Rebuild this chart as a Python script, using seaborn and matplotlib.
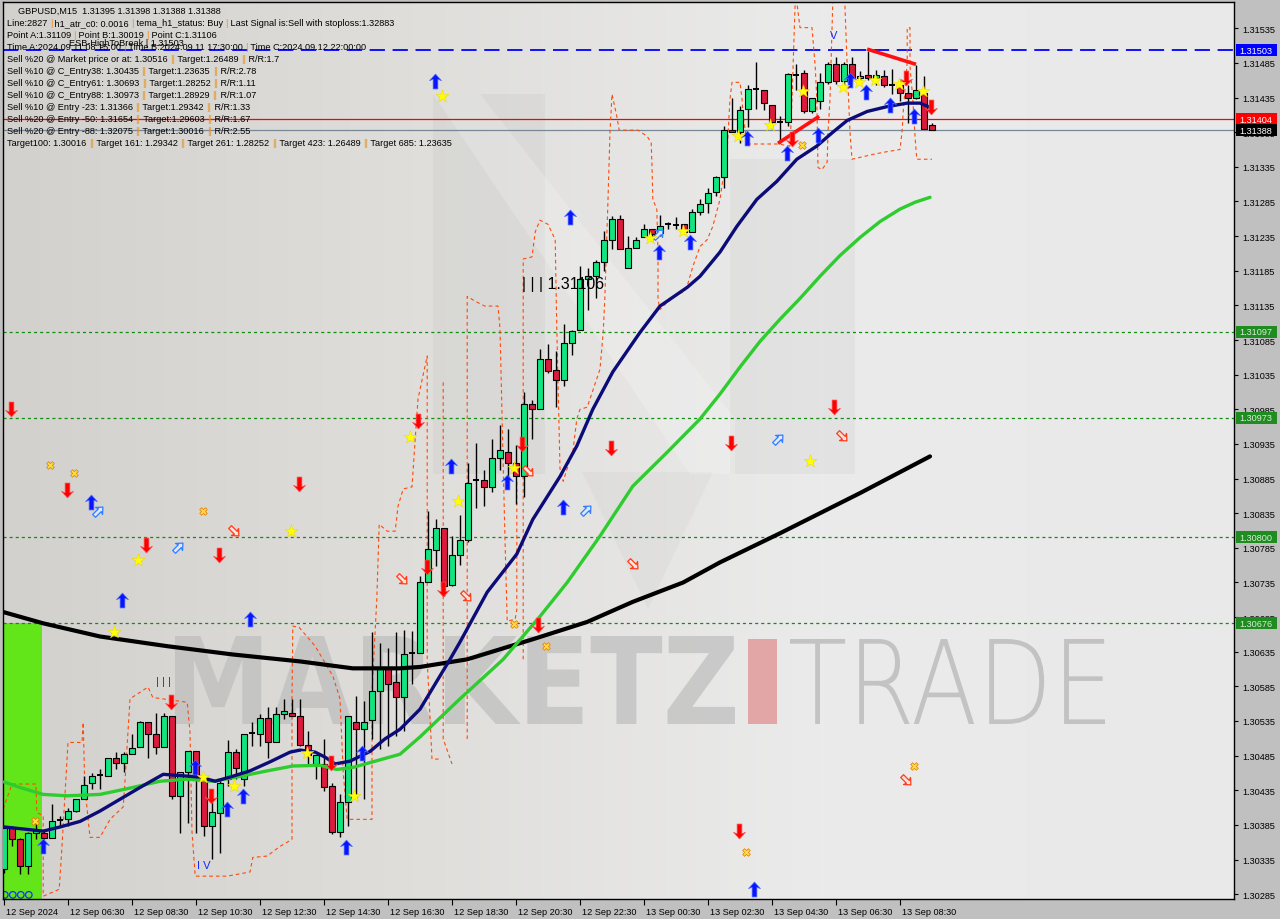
import numpy as np
import seaborn as sns
import matplotlib.pyplot as plt
from matplotlib.path import Path
from matplotlib.patches import Rectangle, Polygon, PathPatch
from matplotlib.textpath import TextPath
from matplotlib.font_manager import FontProperties
from matplotlib.transforms import Affine2D, IdentityTransform, blended_transform_factory, ScaledTranslation
from matplotlib.colors import LinearSegmentedColormap

W, H = 1280, 920

###############################################################################
# GBPUSD M15 candles, bar 0 = 12 Sep 04:30
opens = [
    1.30322, 1.30381, 1.30365, 1.30325, 1.30374, 1.30373, 1.30366, 1.30391, 1.30393, 1.30405,
    1.30423, 1.30445, 1.30456, 1.30456, 1.30481, 1.30475, 1.30488, 1.30498, 1.30534, 1.30516,
    1.30497, 1.30542, 1.30426, 1.30462, 1.30492, 1.30449, 1.30384, 1.30402, 1.30451, 1.30490,
    1.30451, 1.30516, 1.30516, 1.30539, 1.30505, 1.30545, 1.30547, 1.30542, 1.30500, 1.30473,
    1.30473, 1.30441, 1.30375, 1.30418, 1.30534, 1.30523, 1.30537, 1.30578, 1.30611, 1.30591,
    1.30570, 1.30632, 1.30633, 1.30735, 1.30782, 1.30813, 1.30731, 1.30774, 1.30797, 1.30882,
    1.30883, 1.30873, 1.30915, 1.30924, 1.30908, 1.30888, 1.30992, 1.30985, 1.31058, 1.31042,
    1.31028, 1.31081, 1.31099, 1.31173, 1.31178, 1.31198, 1.31229, 1.31259, 1.31189, 1.31218,
    1.31234, 1.31246, 1.31240, 1.31252, 1.31251, 1.31253, 1.31241, 1.31270, 1.31283, 1.31298,
    1.31320, 1.31388, 1.31386, 1.31418, 1.31447, 1.31446, 1.31425, 1.31400, 1.31400, 1.31467,
    1.31470, 1.31416, 1.31430, 1.31457, 1.31483, 1.31459, 1.31483, 1.31464, 1.31467, 1.31463,
    1.31466, 1.31453, 1.31453, 1.31441, 1.31434, 1.31441, 1.31396]
highs = [
    1.30384, 1.30384, 1.30366, 1.30375, 1.30393, 1.30377, 1.30415, 1.30398, 1.30410, 1.30423,
    1.30456, 1.30460, 1.30466, 1.30482, 1.30490, 1.30490, 1.30516, 1.30535, 1.30534, 1.30547,
    1.30547, 1.30542, 1.30462, 1.30492, 1.30492, 1.30449, 1.30418, 1.30451, 1.30507, 1.30495,
    1.30516, 1.30533, 1.30545, 1.30555, 1.30555, 1.30567, 1.30567, 1.30567, 1.30521, 1.30486,
    1.30509, 1.30446, 1.30430, 1.30542, 1.30571, 1.30564, 1.30664, 1.30648, 1.30641, 1.30663,
    1.30667, 1.30665, 1.30744, 1.30838, 1.30826, 1.30813, 1.30802, 1.30832, 1.30908, 1.30937,
    1.30898, 1.30942, 1.30963, 1.30957, 1.30934, 1.31010, 1.30998, 1.31072, 1.31079, 1.31069,
    1.31108, 1.31100, 1.31192, 1.31189, 1.31201, 1.31242, 1.31264, 1.31265, 1.31235, 1.31234,
    1.31253, 1.31246, 1.31265, 1.31255, 1.31262, 1.31253, 1.31274, 1.31288, 1.31304, 1.31322,
    1.31394, 1.31434, 1.31423, 1.31453, 1.31487, 1.31446, 1.31425, 1.31409, 1.31471, 1.31484,
    1.31475, 1.31434, 1.31470, 1.31486, 1.31493, 1.31487, 1.31494, 1.31474, 1.31502, 1.31475,
    1.31475, 1.31476, 1.31460, 1.31453, 1.31482, 1.31466, 1.31399]
lows = [
    1.30316, 1.30355, 1.30314, 1.30314, 1.30365, 1.30365, 1.30366, 1.30384, 1.30384, 1.30403,
    1.30423, 1.30437, 1.30437, 1.30456, 1.30466, 1.30462, 1.30488, 1.30498, 1.30482, 1.30487,
    1.30497, 1.30422, 1.30374, 1.30387, 1.30374, 1.30369, 1.30336, 1.30345, 1.30441, 1.30451,
    1.30441, 1.30499, 1.30499, 1.30482, 1.30505, 1.30538, 1.30542, 1.30499, 1.30473, 1.30451,
    1.30434, 1.30372, 1.30367, 1.30384, 1.30422, 1.30422, 1.30509, 1.30495, 1.30499, 1.30514,
    1.30520, 1.30588, 1.30633, 1.30735, 1.30759, 1.30715, 1.30730, 1.30760, 1.30793, 1.30843,
    1.30845, 1.30865, 1.30898, 1.30881, 1.30848, 1.30859, 1.30942, 1.30985, 1.31038, 1.30989,
    1.31019, 1.31064, 1.31099, 1.31129, 1.31146, 1.31185, 1.31216, 1.31217, 1.31189, 1.31218,
    1.31234, 1.31228, 1.31235, 1.31245, 1.31245, 1.31240, 1.31241, 1.31265, 1.31269, 1.31293,
    1.31305, 1.31385, 1.31370, 1.31392, 1.31418, 1.31417, 1.31389, 1.31370, 1.31394, 1.31446,
    1.31413, 1.31413, 1.31418, 1.31454, 1.31454, 1.31447, 1.31459, 1.31454, 1.31461, 1.31453,
    1.31450, 1.31440, 1.31430, 1.31398, 1.31433, 1.31389, 1.31388]
closes = [
    1.30381, 1.30365, 1.30325, 1.30374, 1.30377, 1.30366, 1.30391, 1.30392, 1.30405, 1.30423,
    1.30443, 1.30456, 1.30457, 1.30481, 1.30475, 1.30488, 1.30496, 1.30534, 1.30516, 1.30498,
    1.30542, 1.30427, 1.30462, 1.30492, 1.30456, 1.30384, 1.30403, 1.30446, 1.30490, 1.30467,
    1.30516, 1.30517, 1.30539, 1.30505, 1.30545, 1.30549, 1.30542, 1.30500, 1.30486, 1.30486,
    1.30440, 1.30375, 1.30418, 1.30542, 1.30523, 1.30533, 1.30578, 1.30611, 1.30589, 1.30570,
    1.30632, 1.30633, 1.30736, 1.30783, 1.30813, 1.30730, 1.30774, 1.30797, 1.30878, 1.30883,
    1.30873, 1.30915, 1.30926, 1.30908, 1.30888, 1.30992, 1.30986, 1.31058, 1.31040, 1.31028,
    1.31081, 1.31098, 1.31173, 1.31178, 1.31197, 1.31229, 1.31260, 1.31217, 1.31218, 1.31229,
    1.31246, 1.31238, 1.31250, 1.31252, 1.31251, 1.31241, 1.31270, 1.31282, 1.31297, 1.31321,
    1.31388, 1.31386, 1.31417, 1.31447, 1.31447, 1.31427, 1.31400, 1.31400, 1.31469, 1.31467,
    1.31416, 1.31434, 1.31457, 1.31483, 1.31459, 1.31483, 1.31464, 1.31466, 1.31463, 1.31467,
    1.31453, 1.31453, 1.31442, 1.31434, 1.31446, 1.31389, 1.31388]

time_labels = ["12 Sep 2024", "12 Sep 06:30", "12 Sep 08:30", "12 Sep 10:30", "12 Sep 12:30",
               "12 Sep 14:30", "12 Sep 16:30", "12 Sep 18:30", "12 Sep 20:30", "12 Sep 22:30",
               "13 Sep 00:30", "13 Sep 02:30", "13 Sep 04:30", "13 Sep 06:30", "13 Sep 08:30"]

# moving averages (bar index, price)
navy_x = [0, 4.9, 7, 9.5, 12, 14.5, 17, 19.9, 24.5, 26.4, 28.25, 30.75, 33.25, 35.75, 37, 38.9,
          40.1, 41.4, 43.25, 45.75, 47.6, 49.5, 52, 55.75, 57, 60.4, 64.1, 66.1, 69.5, 71.6, 73.6,
          76.1, 79.5, 82, 85.4, 87, 89.5, 91.6, 94.1, 96.6, 99.1, 101.6, 103.6, 105.4, 107.9,
          110.4, 112.9, 114.5, 115.75]
navy_y = [1.30382, 1.30376, 1.30382, 1.30390, 1.30405, 1.30422, 1.30439, 1.30458, 1.30454, 1.30448,
          1.30454, 1.30463, 1.30476, 1.30490, 1.30493, 1.30490, 1.30483, 1.30473, 1.30477, 1.30491,
          1.30509, 1.30523, 1.30552, 1.30624, 1.30649, 1.30721, 1.30776, 1.30826, 1.30888, 1.30932,
          1.30985, 1.31039, 1.31096, 1.31134, 1.31161, 1.31177, 1.31212, 1.31249, 1.31288, 1.31314,
          1.31346, 1.31365, 1.31385, 1.31402, 1.31415, 1.31422, 1.31427, 1.31427, 1.31421]
green_x = [0, 2, 4.9, 7.9, 12, 16.1, 19.5, 22.9, 26.1, 29.5, 32.9, 36.1, 39.5, 41.6, 43.6, 46.1,
           49.5, 52, 57, 62.4, 67, 70.4, 74.5, 78.6, 82.9, 87, 89.5, 92, 94.5, 97, 99.5, 102,
           104.5, 107, 109.5, 112, 113.9, 115.75]
green_y = [1.30447, 1.30439, 1.30429, 1.30427, 1.30429, 1.30439, 1.30448, 1.30451, 1.30448, 1.30455,
           1.30463, 1.30470, 1.30471, 1.30465, 1.30468, 1.30476, 1.30487, 1.30512, 1.30567, 1.30624,
           1.30686, 1.30735, 1.30802, 1.30874, 1.30923, 1.30971, 1.31007, 1.31046, 1.31083, 1.31115,
           1.31145, 1.31177, 1.31207, 1.31233, 1.31256, 1.31274, 1.31284, 1.31291]
black_x = [0, 4.9, 12, 20.4, 28.6, 37, 43.6, 49.5, 52, 57.9, 66.1, 72.9, 78.6, 84.9, 89.5, 97, 107, 115.75]
black_y = [1.30692, 1.30676, 1.30657, 1.30643, 1.30631, 1.30621, 1.30611, 1.30611, 1.30613, 1.30624,
           1.30653, 1.30678, 1.30707, 1.30735, 1.30764, 1.30806, 1.30864, 1.30917]

# orange dashed channel, several pieces
orange_a = [(-0.1, 1.30408), (1, 1.30444), (4, 1.30444), (4.1, 1.30403), (4.9, 1.30398), (4.9, 1.30282),
            (6.9, 1.30292), (7.25, 1.30354), (8, 1.30504), (9.75, 1.30504), (9.9, 1.30533), (10.1, 1.30441),
            (10.75, 1.30367), (12, 1.30367), (13.25, 1.30393), (14.9, 1.30411), (15.1, 1.30444),
            (15.75, 1.30567), (18, 1.30584), (18.6, 1.30569), (22.9, 1.30562), (23.25, 1.30519),
            (23.5, 1.30375), (23.9, 1.30311), (27.9, 1.30311), (30.75, 1.30317), (31.1, 1.30338),
            (32.9, 1.30340), (34.5, 1.30354), (36, 1.30364), (36, 1.30567), (36.1, 1.30672),
            (36.9, 1.30670), (38.9, 1.30643), (41.1, 1.30600), (42, 1.30567), (42.4, 1.30461),
            (42.9, 1.30393), (46, 1.30393), (46, 1.30577), (46.6, 1.30711), (46.9, 1.30819),
            (47.9, 1.30809), (48.9, 1.30809), (49.25, 1.30845), (49.9, 1.30870), (51, 1.30873),
            (51.4, 1.30942), (51.75, 1.31000), (52.9, 1.31062), (52.9, 1.30624), (53.5, 1.30480),
            (54.5, 1.30480)]
orange_b = [(54.9, 1.31024), (54.9, 1.30509), (56, 1.30473)]
orange_c = [(57.9, 1.30509), (57.9, 1.31148), (58.9, 1.31141), (60.1, 1.31134), (61.75, 1.31134),
            (62, 1.31101), (62.6, 1.30808), (62.9, 1.30679), (63.9, 1.30682), (64.1, 1.30696), (64.1, 1.30880)]
orange_d = [(64.9, 1.30624), (64.9, 1.31202), (66, 1.31205), (66.4, 1.31241), (67, 1.31258), (68, 1.31252),
            (68.9, 1.31230), (69.1, 1.31101), (69.5, 1.30899), (69.9, 1.30881), (70.75, 1.30913),
            (71.1, 1.30923), (71.6, 1.30971), (72, 1.30985), (72.9, 1.30988), (73.25, 1.31000),
            (74.5, 1.31043), (74.9, 1.31096), (75.1, 1.31144), (75.5, 1.31288), (75.75, 1.31385),
            (76, 1.31440), (76.6, 1.31408), (76.9, 1.31388), (79.25, 1.31388), (80.4, 1.31379),
            (80.9, 1.31370), (81, 1.31336), (81.1, 1.31288), (81.6, 1.31274), (81.75, 1.31212),
            (81.75, 1.31144), (82, 1.31129), (82.4, 1.31134), (84.1, 1.31151), (84.9, 1.31154),
            (85.4, 1.31163), (86.1, 1.31191), (87, 1.31220), (87.9, 1.31230), (88.6, 1.31249),
            (89.5, 1.31288), (90.4, 1.31360), (90.75, 1.31433), (91, 1.31457), (92, 1.31457),
            (92.25, 1.31433), (92.4, 1.31408), (92.9, 1.31368), (96.75, 1.31368), (98.25, 1.31365),
            (98.5, 1.31433), (98.9, 1.31573), (99, 1.31620), (99.1, 1.31573), (99.5, 1.31536),
            (101, 1.31536), (101.4, 1.31480), (101.6, 1.31433), (101.75, 1.31334), (102.25, 1.31331),
            (102.9, 1.31342), (103, 1.31385), (103.25, 1.31433), (103.6, 1.31573), (103.9, 1.31620),
            (104.9, 1.31620), (105.1, 1.31573), (105.4, 1.31480), (105.75, 1.31385), (106, 1.31346),
            (108.6, 1.31353), (110.4, 1.31357), (112, 1.31360), (112.25, 1.31385), (112.4, 1.31414),
            (112.9, 1.31486), (112.9, 1.31536), (113.25, 1.31536), (113.25, 1.31480), (113.6, 1.31433),
            (113.9, 1.31375), (114.1, 1.31346), (116, 1.31346)]

# signal markers (bar index, price)
blue_up = [(53.9, 1.31459), (70.75, 1.31262), (81.9, 1.31212), (85.75, 1.31226), (92.9, 1.31376),
           (97.9, 1.31355), (101.75, 1.31381), (105.75, 1.31460), (107.75, 1.31443), (110.75, 1.31424),
           (113.75, 1.31408), (10.9, 1.30851), (14.75, 1.30709), (30.75, 1.30682), (55.9, 1.30903),
           (62.9, 1.30880), (69.9, 1.30844), (4.9, 1.30354), (27.9, 1.30408), (29.9, 1.30427),
           (23.9, 1.30468), (42.75, 1.30353), (44.75, 1.30489), (93.75, 1.30292)]
red_down = [(0.9, 1.30985), (7.9, 1.30868), (17.75, 1.30789), (26.9, 1.30774), (36.9, 1.30877),
            (51.75, 1.30968), (64.75, 1.30935), (75.9, 1.30929), (90.9, 1.30936), (103.75, 1.30988),
            (66.75, 1.30673), (91.9, 1.30376), (98.5, 1.31375), (112.75, 1.31464), (115.9, 1.31421),
            (20.9, 1.30562), (25.9, 1.30427), (40.9, 1.30474), (52.9, 1.30757), (54.9, 1.30725)]
hollow_up = [(11.75, 1.30838), (21.75, 1.30786), (72.75, 1.30839), (96.75, 1.30942), (81.75, 1.31238)]
hollow_down = [(28.75, 1.30810), (49.75, 1.30740), (57.75, 1.30715), (65.5, 1.30896), (78.6, 1.30761),
               (104.75, 1.30946), (112.75, 1.30450)]
stars = [(54.75, 1.31437), (16.75, 1.30767), (35.9, 1.30810), (50.75, 1.30945), (56.75, 1.30852),
         (63.75, 1.30900), (80.75, 1.31233), (84.9, 1.31242), (100.75, 1.30911), (13.75, 1.30663),
         (24.9, 1.30454), (28.75, 1.30441), (37.9, 1.30489), (43.75, 1.30427), (91.75, 1.31379),
         (95.75, 1.31396), (99.9, 1.31445), (104.9, 1.31451), (106.9, 1.31457), (108.9, 1.31461),
         (111.9, 1.31454), (114.9, 1.31445)]
crosses = [(5.75, 1.30904), (8.75, 1.30893), (24.9, 1.30838), (3.9, 1.30390), (63.75, 1.30675),
           (67.75, 1.30643), (92.75, 1.30346), (113.75, 1.30470), (99.75, 1.31366)]

# red trend lines
trend_1 = [(96.75, 1.31369), (101.9, 1.31408)]
trend_2 = [(107.9, 1.31505), (114, 1.31483)]

# horizontal levels
level_blue = 1.31503
level_red = 1.31404
level_last = 1.31388
levels_green = [1.31097, 1.30973, 1.30800, 1.30676]

header_lines = [
    "Line:2827 | h1_atr_c0: 0.0016 | tema_h1_status: Buy | Last Signal is:Sell with stoploss:1.32883",
    "Point A:1.31109 | Point B:1.30019 | Point C:1.31106",
    "Time A:2024.09.11 08:15:00 | Time B:2024.09.11 17:30:00 | Time C:2024.09.12 22:00:00",
    "Sell %20 @ Market price or at: 1.30516 || Target:1.26489 || R/R:1.7",
    "Sell %10 @ C_Entry38: 1.30435 || Target:1.23635 || R/R:2.78",
    "Sell %10 @ C_Entry61: 1.30693 || Target:1.28252 || R/R:1.11",
    "Sell %10 @ C_Entry88: 1.30973 || Target:1.28929 || R/R:1.07",
    "Sell %10 @ Entry -23: 1.31366 || Target:1.29342 || R/R:1.33",
    "Sell %20 @ Entry -50: 1.31654 || Target:1.29603 || R/R:1.67",
    "Sell %20 @ Entry -88: 1.32075 || Target:1.30016 || R/R:2.55",
    "Target100: 1.30016 || Target 161: 1.29342 || Target 261: 1.28252 || Target 423: 1.26489 || Target 685: 1.23635",
]
title_line = "GBPUSD,M15  1.31395 1.31398 1.31388 1.31388"

###############################################################################
sns.set_style("white")
plt.rcParams['font.family'] = ['Liberation Sans', 'DejaVu Sans']
plt.rcParams['lines.scale_dashes'] = False

fig = plt.figure(figsize=(W / 100, H / 100), dpi=100, facecolor='#c0c0c0')
ax = fig.add_axes([3 / W, 20 / H, 1231 / W, 897 / H])
XMIN, XMAX = -0.125, 153.75
YMIN, YMAX = 1.30278, 1.31573

# background gradient
bg = LinearSegmentedColormap.from_list('bg', ['#d3d1cd', '#dfdedb', '#ebebeb', '#e9e9e9'])
ax.imshow(np.linspace(0, 1, 256)[None, :], cmap=bg, aspect='auto',
          extent=[XMIN, XMAX, YMIN, YMAX], zorder=0, interpolation='bilinear')

# faint logo shapes (pixel space)
ident = IdentityTransform()
def px(pts):
    return [(x, H - y) for x, y in pts]
for pts, a in [([(433, 95), (545, 95), (545, 475), (433, 475)], 0.03),
               ([(730, 160), (855, 160), (855, 475), (730, 475)], 0.03),
               ([(582, 473), (713, 473), (648, 610)], 0.025)]:
    ax.add_patch(Polygon(px(pts), closed=True, transform=ident, fc='black', ec='none', alpha=a, zorder=0.5))
ax.add_patch(Polygon(px([(433, 95), (480, 95), (735, 420), (735, 475), (690, 475)]), closed=True,
                     transform=ident, fc='white', ec='none', alpha=0.2, zorder=0.5))

# MARKETZ | TRADE watermark
def word(txt, fp, x0, x1, ytop, ybot, color, alpha):
    tp = TextPath((0, 0), txt, size=1, prop=fp)
    e = tp.get_extents()
    tr = Affine2D().translate(-e.x0, -e.y0).scale((x1 - x0) / e.width, (ybot - ytop) / e.height) \
        .translate(x0, H - ybot)
    ax.add_patch(PathPatch(tp, transform=tr, fc=color, ec='none', alpha=alpha, zorder=0.6))
word("MARKETZ", FontProperties(family='DejaVu Sans', weight='bold'), 175, 735, 637, 725, '#bdbdbd', 0.7)
word("TRADE", FontProperties(family='DejaVu Sans', weight='light'), 790, 1105, 640, 725, '#b6b6b6', 0.75)
ax.add_patch(Polygon(px([(748, 640), (777, 640), (777, 725), (748, 725)]), closed=True, transform=ident,
                     fc='#e29b9b', ec='none', alpha=0.85, zorder=0.6))

# lime block on the left
ax.add_patch(Rectangle((XMIN, YMIN - 0.001), 4.75 - XMIN, 1.30676 - YMIN + 0.001,
                       fc='#62e61a', ec='none', zorder=0.8))
ax.scatter([0.1, 1.1, 2.1, 3.1], [1.30284] * 4, s=22, facecolors='none', edgecolors='#1a2cff',
           linewidths=0.9, zorder=2)

# levels
ax.axhline(level_blue, color='#0000ff', lw=1.3, dashes=(11, 5.5), zorder=1.5)
ax.axhline(level_red, color='#ff0000', lw=0.9, zorder=1.5)
ax.axhline(level_last, color='#778899', lw=0.9, zorder=1.5)
for lv in levels_green:
    ax.axhline(lv, color='#128c12', lw=0.9, dashes=(2.2, 2.2), zorder=1.5)

# orange dashed channel
for piece in [orange_a, orange_b, orange_c, orange_d]:
    xs, ys = zip(*piece)
    ax.plot(xs, ys, color='#ff4a0a', lw=0.8, dashes=(2.6, 2.2), zorder=2)

# candles
idx = np.arange(len(opens))
o, h, l, c = map(np.array, (opens, highs, lows, closes))
ax.vlines(idx, l, h, color='black', lw=1.0, zorder=5)
body_lo = np.minimum(o, c)
body_h = np.abs(c - o)
doji = body_h < 0.000015
cols = np.where(c > o, '#12e57e', '#dc1a3c')
ax.bar(idx[~doji], body_h[~doji], bottom=body_lo[~doji], width=0.66, color=cols[~doji],
       edgecolor='black', linewidth=0.8, zorder=5.5)
ax.hlines(c[doji], idx[doji] - 0.4, idx[doji] + 0.4, color='black', lw=1.4, zorder=5.5)

# moving averages
sns.lineplot(x=black_x, y=black_y, ax=ax, color='black', linewidth=3.0, sort=False, estimator=None, zorder=6)
sns.lineplot(x=green_x, y=green_y, ax=ax, color='#2ecc2e', linewidth=2.4, sort=False, estimator=None, zorder=6)
sns.lineplot(x=navy_x, y=navy_y, ax=ax, color='#0c0c78', linewidth=2.4, sort=False, estimator=None, zorder=6)

# red trend lines
for tl in (trend_1, trend_2):
    xs, ys = zip(*tl)
    ax.plot(xs, ys, color='#ff0f0f', lw=2.6, solid_capstyle='butt', zorder=6.5)

# markers
up_arrow = Path([(0, 1), (0.8, 0.12), (0.32, 0.3), (0.32, -1), (-0.32, -1), (-0.32, 0.3), (-0.8, 0.12), (0, 1)],
                [Path.MOVETO] + [Path.LINETO] * 6 + [Path.CLOSEPOLY])
down_arrow = Path([(x, -y) for x, y in up_arrow.vertices], up_arrow.codes)
diag_up = Path(Affine2D().rotate_deg(-45).transform(up_arrow.vertices), up_arrow.codes)
diag_down = Path(Affine2D().rotate_deg(-135).transform(up_arrow.vertices), up_arrow.codes)

def scat(pts, **kw):
    xs, ys = zip(*pts)
    ax.scatter(xs, ys, zorder=7, **kw)

scat(blue_up, marker=up_arrow, s=115, c='#0a14ff', edgecolors='#4a6cff', linewidths=0.5)
scat(red_down, marker=down_arrow, s=115, c='#ff0000', edgecolors='#ff5050', linewidths=0.5)
scat(hollow_up, marker=diag_up, s=70, facecolors='#dfe8ff', edgecolors='#2f7dff', linewidths=0.9)
scat(hollow_down, marker=diag_down, s=70, facecolors='#ffe4dc', edgecolors='#ff3a1a', linewidths=0.9)
scat(stars, marker='*', s=95, c='#ffff00', edgecolors='#e8d000', linewidths=0.3)
scat(crosses, marker='X', s=30, c='#ffdd44', edgecolors='#e07a00', linewidths=0.5)

# wave labels and level text
ax.text(64.75, 1.31166, "| | | 1.31106", fontsize=11.5, color='black', va='center', ha='left', zorder=7)
ax.text(103.75, 1.31525, "V", fontsize=8, color='#1428ff', va='center', ha='center', zorder=7)
ax.text(19.9, 1.30593, "| | |", fontsize=8, color='#1428ff', va='center', ha='center', zorder=7)
ax.text(25.0, 1.30327, "I V", fontsize=8, color='#1428ff', va='center', ha='center', zorder=7)

ax.set_xlim(XMIN, XMAX)
ax.set_ylim(YMIN, YMAX)

# axes styling
for sp in ax.spines.values():
    sp.set_visible(True)
    sp.set_color('black')
    sp.set_linewidth(1.0)
ax.yaxis.tick_right()
yt = np.round(np.arange(1.30285, 1.31540, 0.0005), 5)
ax.set_yticks(yt)
ax.set_yticklabels([f"{v:.5f}" for v in yt])
ax.tick_params(axis='y', which='both', right=True, left=False, labelright=True, labelleft=False,
               length=3, width=0.8, pad=3, labelsize=6.6, colors='black', direction='out')
ax.set_xticks(np.arange(0, 113, 8))
ax.set_xticklabels(time_labels)
ax.tick_params(axis='x', bottom=True, length=4, width=0.8, pad=2, labelsize=6.6, colors='black', direction='out')
off = ScaledTranslation(2 / 100, 0, fig.dpi_scale_trans)
for lab in ax.get_xticklabels():
    lab.set_ha('left')
    lab.set_transform(lab.get_transform() + off)
ax.set_xlabel("")
ax.set_ylabel("")

# price tags on the right axis
tag_tr = blended_transform_factory(fig.transFigure, ax.transData)
tag_h = 12 / (897 / (YMAX - YMIN))
for val, fc, tc in [(level_blue, '#0000ff', 'white'), (level_red, '#ff0000', 'white'),
                    (level_last, '#000000', 'white'), (1.31097, '#1e8c1e', '#d8ecd8'),
                    (1.30973, '#1e8c1e', '#d8ecd8'), (1.30800, '#1e8c1e', '#d8ecd8'),
                    (1.30676, '#1e8c1e', '#d8ecd8')]:
    ax.add_patch(Rectangle((1236 / W, val - tag_h / 2), 41 / W, tag_h, transform=tag_tr,
                           fc=fc, ec='none', clip_on=False, zorder=8))
    ax.text(1239 / W, val, f"{val:.5f}", transform=tag_tr, color=tc, fontsize=6.6,
            va='center', ha='left', clip_on=False, zorder=9)

# header text, pipes in orange
renderer = fig.canvas.get_renderer()
hfp = FontProperties(family=['Liberation Sans', 'DejaVu Sans'], size=6.6)

def twidth(s):
    w1 = renderer.get_text_width_height_descent('x' + s + 'x', hfp, ismath=False)[0]
    w0 = renderer.get_text_width_height_descent('xx', hfp, ismath=False)[0]
    return w1 - w0

def header(x, y, s):
    parts = []
    buf = ''
    for ch in s:
        if (ch == '|') != (buf[-1:] == '|') and buf:
            parts.append(buf)
            buf = ''
        buf += ch
    parts.append(buf)
    for p in parts:
        fig.text(x / W, 1 - y / H, p, fontproperties=hfp, va='center', ha='left',
                 color='#e8921e' if p.startswith('|') else 'black', zorder=10)
        x += twidth(p)

header(18, 11, title_line)
ys = [24, 36, 48, 60, 72, 84, 96, 108, 120, 132, 144]
for y, s in zip(ys, header_lines):
    header(7, y, s)
fig.text(69 / W, 1 - 44 / H, "ESB-HighToBreak | 1.31503", fontproperties=hfp, va='center', ha='left',
         color='black', zorder=10)

plt.savefig("out.png", dpi=100, facecolor=fig.get_facecolor())
